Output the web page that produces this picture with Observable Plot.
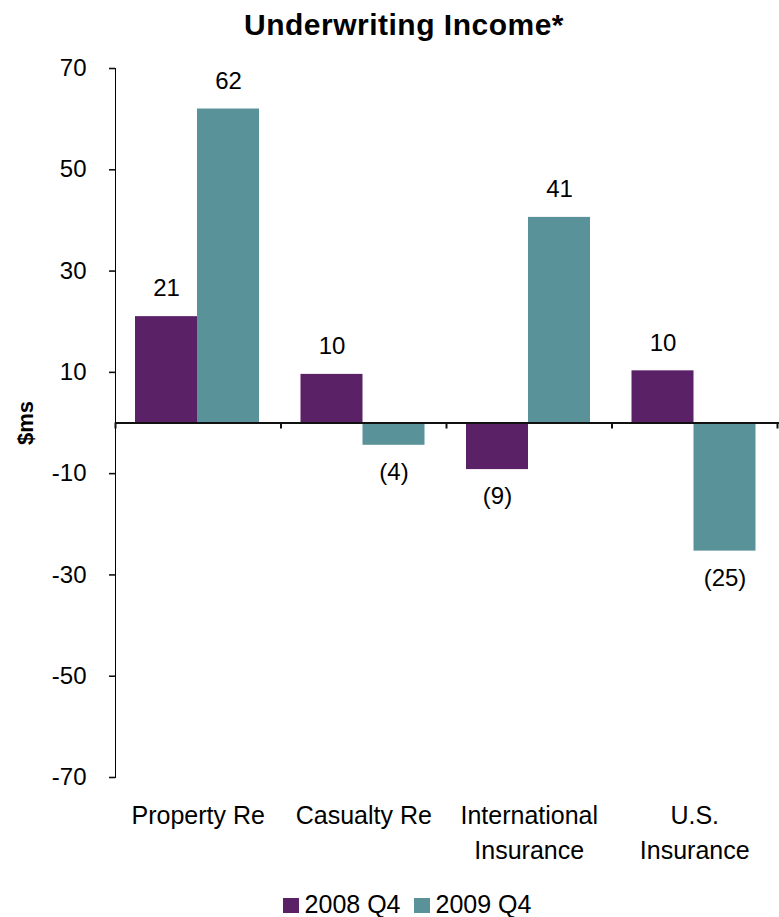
<!DOCTYPE html>
<html><head><meta charset="utf-8">
<script src="https://cdn.jsdelivr.net/npm/d3@7"></script>
<script src="https://cdn.jsdelivr.net/npm/@observablehq/plot@0.6"></script>
<style>
html,body{margin:0;padding:0;background:#fff;overflow:hidden;}
body{font-family:"Liberation Sans",Arial,sans-serif;color:#000;width:779px;height:917px;}
#title{height:50px;line-height:49px;font-size:30px;font-weight:bold;text-align:center;padding-left:29px;letter-spacing:0.5px;box-sizing:border-box;}
#legend{display:flex;justify-content:center;align-items:baseline;padding-left:35px;padding-top:19px;font-size:25px;line-height:30px;}
#legend .item{display:flex;align-items:baseline;}
#legend .sw{display:inline-block;width:16px;height:15px;margin-right:6px;}
#chart svg g[aria-label^="y-axis"] line,#chart svg g[aria-label^="y-axis"] path{stroke-width:1.6px;stroke:#111;}
</style></head><body>
<div id="title">Underwriting Income*</div>
<div id="chart"></div>
<div id="legend"></div>
<script>
const categories = ["Property Re", "Casualty Re", "International\nInsurance", "U.S.\nInsurance"];
const series = ["2008 Q4", "2009 Q4"];
const values2008 = [21, 9.6, -9.2, 10.3];
const values2009 = [62, -4.4, 40.6, -25.3];
const colors = ["#5B2167", "#5A9299"];
const yTicks = [-70, -50, -30, -10, 10, 30, 50, 70];
const yDomain = [-70, 70];
const yLabel = "$ms";

// layout
const W = 779, H = 820, ML = 115, MR = 2, MT = 18, MB = 93;
const BW = (W - ML - MR) / categories.length; // band width
const PAD = 20, BAR = 62;

const rows = categories.flatMap((c, i) => [
  {category: c, series: series[0], value: values2008[i]},
  {category: c, series: series[1], value: values2009[i]}
]);
const fmt = d => d.value >= 0 ? String(Math.round(d.value)) : "(" + Math.round(-d.value) + ")";

function seriesMarks(j) {
  const data = rows.filter(d => d.series === series[j]);
  const left = PAD + j * BAR;
  const right = BW - left - BAR;
  const dx = left + BAR / 2 - BW / 2;
  return [
    Plot.barY(data, {x: "category", y: "value", fill: colors[j], insetLeft: left, insetRight: right}),
    Plot.text(data.filter(d => d.value >= 0), {x: "category", y: "value", text: fmt, dx, dy: -28}),
    Plot.text(data.filter(d => d.value < 0), {x: "category", y: "value", text: fmt, dx, dy: 27})
  ];
}

const chart = Plot.plot({
  width: W, height: H,
  marginLeft: ML, marginRight: MR, marginTop: MT, marginBottom: MB,
  style: {fontFamily: '"Liberation Sans", Arial, sans-serif', fontSize: "24px", color: "#000", background: "#fff", overflow: "visible"},
  x: {domain: categories, padding: 0, round: false, axis: null},
  y: {domain: yDomain, ticks: yTicks, tickFormat: d => String(d), tickSize: 6, tickPadding: 23, line: true, label: null},
  marks: [
    ...seriesMarks(0),
    ...seriesMarks(1),
    Plot.ruleY([0], {stroke: "#111", strokeWidth: 2, insetRight: -2}),
    Plot.ruleX(categories, {x: d => d, y1: 0, y2: 0, insetTop: 6, dx: -BW / 2, stroke: "#111", strokeWidth: 2}),
    Plot.ruleX(categories.slice(-1), {x: d => d, y1: 0, y2: 0, insetTop: 6, dx: BW / 2, stroke: "#111", strokeWidth: 2}),
    Plot.text(categories, {x: d => d, text: d => d, frameAnchor: "bottom", lineAnchor: "top", dy: 22, lineHeight: 1.4, fontSize: 25}),
    Plot.text([yLabel], {text: d => d, frameAnchor: "left", rotate: -90, dx: -89.5, dy: 22, fontWeight: "bold", fontSize: 22})
  ]
});
document.getElementById("chart").appendChild(chart);

const legend = document.getElementById("legend");
series.forEach((s, j) => {
  const item = document.createElement("div");
  item.className = "item";
  item.style.marginRight = j < series.length - 1 ? "13px" : "0";
  const sw = document.createElement("span");
  sw.className = "sw";
  sw.style.background = colors[j];
  const t = document.createElement("span");
  t.textContent = s;
  item.appendChild(sw); item.appendChild(t);
  legend.appendChild(item);
});
</script>
</body></html>
